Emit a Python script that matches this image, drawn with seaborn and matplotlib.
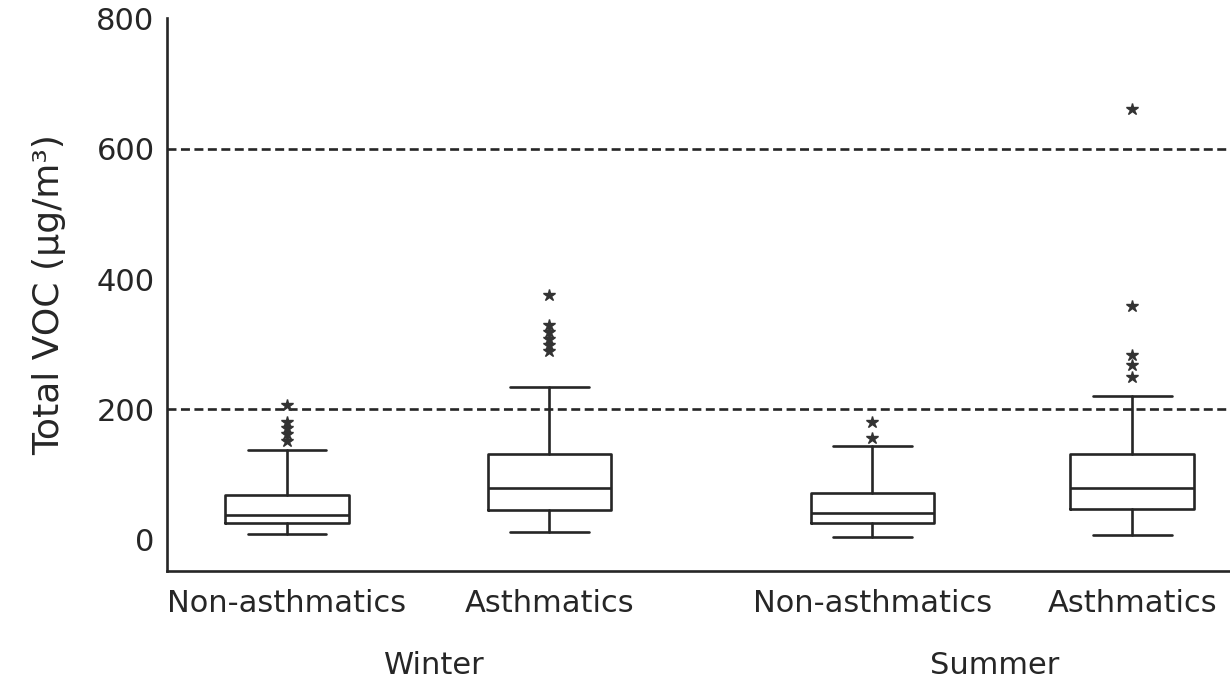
# ============================================================================
# LIBRARY IMPORTS
# ============================================================================
import matplotlib
matplotlib.use("Agg")
import seaborn as sns
import matplotlib.pyplot as plt
import matplotlib.transforms as mtransforms

# ============================================================================
# DATA
# ============================================================================
groups = ['Non-asthmatics', 'Asthmatics', 'Non-asthmatics', 'Asthmatics']
seasons = ['Winter', 'Summer']

whislo = [9, 12, 4, 8]
q1 = [25, 46, 25, 47]
median = [38, 80, 41, 80]
q3 = [68, 132, 72, 131]
whishi = [137, 235, 144, 221]
fliers = [
    [207, 180, 172, 162, 152],
    [376, 330, 319, 308, 299, 290],
    [180, 156],
    [662, 359, 284, 269, 250],
]

reference_lines = [200, 600]
y_ticks = [0, 200, 400, 600, 800]

# ============================================================================
# FIGURE
# ============================================================================
sns.set_theme(style="white")
plt.rcParams['font.family'] = ['DejaVu Sans']

fig = plt.figure(figsize=(12.3, 6.84), dpi=100)
ax = fig.add_axes([0.1358, 0.1652, 0.87, 0.8085])

positions = [1, 2, 3.23, 4.22]
stats = []
for i in range(len(groups)):
    stats.append({
        'whislo': whislo[i], 'q1': q1[i], 'med': median[i],
        'q3': q3[i], 'whishi': whishi[i], 'fliers': fliers[i],
    })

lw = 1.9
ink = '#262626'
ax.bxp(
    stats, positions=positions, widths=0.47, capwidths=0.30,
    boxprops=dict(color=ink, linewidth=lw),
    medianprops=dict(color=ink, linewidth=lw),
    whiskerprops=dict(color=ink, linewidth=lw),
    capprops=dict(color=ink, linewidth=lw),
    flierprops=dict(marker='*', markersize=9, markerfacecolor='#333333',
                    markeredgecolor='#333333', linestyle='none'),
    zorder=3,
)

# Dashed reference lines
for yv in reference_lines:
    ax.axhline(yv, color=ink, linewidth=lw, linestyle=(0, (3.4, 1.7)),
               zorder=2)

# Axes styling
ax.set_xlim(0.543, 4.62)
ax.set_ylim(-48, 801)
ax.set_yticks(y_ticks)
ax.set_xticks(positions)
ax.set_xticklabels(groups, fontsize=22, color=ink)
ax.tick_params(axis='y', direction='in', length=13, width=lw,
               labelsize=22, labelcolor=ink, color=ink, pad=9)
ax.tick_params(axis='x', length=0, pad=13)
for side in ['top', 'right']:
    ax.spines[side].set_visible(False)
for side in ['left', 'bottom']:
    ax.spines[side].set_linewidth(lw)
    ax.spines[side].set_color(ink)

ax.set_ylabel('Total VOC (µg/m³)', fontsize=26, color=ink, labelpad=22)

# Season labels under each pair
trans = mtransforms.blended_transform_factory(ax.transData, fig.transFigure)
season_x = [(positions[0] + positions[1]) / 2 + 0.06,
            (positions[2] + positions[3]) / 2 - 0.03]
for sx, name in zip(season_x, seasons):
    ax.text(sx, 1 - 665 / 684, name, transform=trans, ha='center',
            va='center', fontsize=22, color=ink)

# ============================================================================
# SAVE
# ============================================================================
fig.savefig("out.png", dpi=100)
